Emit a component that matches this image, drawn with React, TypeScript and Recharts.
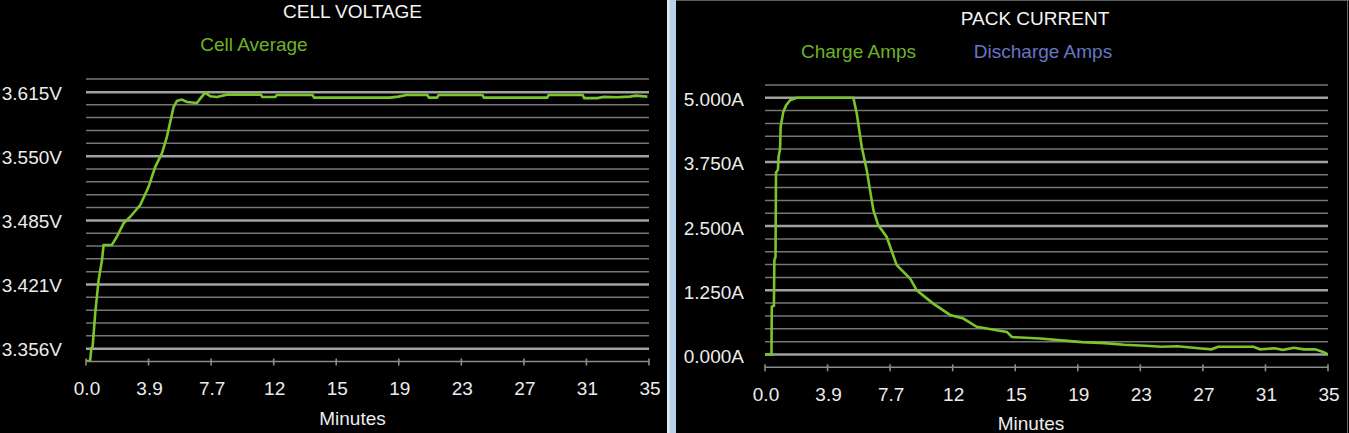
import React from 'react';
import { LineChart, Line, XAxis, YAxis, CartesianGrid } from 'recharts';

// ---- axis ticks ----
const xTickValues = [0, 3.8667, 7.7333, 11.6, 15.4667, 19.3333, 23.2, 27.0667, 30.9333, 34.8];
const xTickLabels = ['0.0', '3.9', '7.7', '12', '15', '19', '23', '27', '31', '35'];

const voltTicks = [3.356, 3.4208, 3.4855, 3.5503, 3.615];
const voltTickLabels = ['3.356V', '3.421V', '3.485V', '3.550V', '3.615V'];

const ampTicks = [0, 1.25, 2.5, 3.75, 5];
const ampTickLabels = ['0.000A', '1.250A', '2.500A', '3.750A', '5.000A'];

// ---- CELL VOLTAGE series ----
const voltMinutes = [
  0, 0.25, 0.33, 0.41, 0.57, 0.78, 0.99, 1.09, 1.6, 1.91, 2.32, 2.74, 3.35, 3.87, 4.28, 4.69, 5.0,
  5.41, 5.62, 5.93, 6.24, 6.86, 7.06, 7.37, 7.68, 8.09, 8.71, 10.8, 10.9, 11.7, 11.8, 14.0, 14.1,
  18.8, 19.3, 19.8, 21.1, 21.2, 21.7, 21.8, 24.5, 24.6, 28.5, 28.6, 30.7, 30.8, 31.6, 32.0, 32.8,
  33.6, 34.0, 34.7,
];
const cellAverage = [
  3.3435, 3.3435, 3.356, 3.3582, 3.3918, 3.4254, 3.4455, 3.4607, 3.4607, 3.469, 3.4825, 3.4892,
  3.501, 3.5194, 3.5396, 3.5531, 3.5698, 3.5997, 3.6061, 3.6075, 3.6051, 3.6041, 3.6084, 3.6145,
  3.6108, 3.6101, 3.6125, 3.6125, 3.6101, 3.6101, 3.6121, 3.6121, 3.6095, 3.6095, 3.6105, 3.6121,
  3.6121, 3.6095, 3.6095, 3.6121, 3.6121, 3.6095, 3.6095, 3.6121, 3.6121, 3.609, 3.609, 3.6102,
  3.6098, 3.6105, 3.6115, 3.6105,
];

// ---- PACK CURRENT series ----
const ampMinutes = [
  0, 0.4, 0.42, 0.55, 0.58, 0.65, 0.68, 0.8, 0.84, 0.93, 0.97, 1.13, 1.3, 1.55, 1.96, 5.46, 5.67,
  5.98, 6.29, 6.49, 6.7, 7.0, 7.52, 8.14, 8.97, 9.38, 10.4, 11.44, 12.26, 13.09, 14.33, 14.95,
  15.26, 17.0, 18.5, 19.6, 21.0, 22.2, 23.5, 24.5, 25.5, 26.8, 27.6, 28.0, 30.2, 30.6, 31.5, 32.0,
  32.7, 33.3, 34.0, 34.5, 34.8,
];
const chargeAmps = [
  0, 0, 0.93, 0.95, 1.84, 1.9, 3.54, 3.6, 3.85, 4.0, 4.44, 4.72, 4.85, 4.95, 5.0, 5.0, 4.7, 4.04,
  3.59, 3.2, 2.81, 2.52, 2.29, 1.74, 1.48, 1.25, 0.99, 0.77, 0.7, 0.54, 0.47, 0.44, 0.34, 0.31,
  0.27, 0.24, 0.22, 0.19, 0.17, 0.15, 0.16, 0.12, 0.1, 0.15, 0.15, 0.1, 0.12, 0.09, 0.13, 0.1,
  0.1, 0.05, 0.0,
];

const voltData = voltMinutes.map((t, i) => ({ t, v: cellAverage[i] }));
const ampData = ampMinutes.map((t, i) => ({ t, v: chargeAmps[i] }));

const FONT = '"Liberation Sans", Arial, sans-serif';
const GREEN = '#7bc42c';
const TEXT = '#ececec';
const FS = 19;

function minorValues(ticks: number[]) {
  const step = (ticks[1] - ticks[0]) / 5;
  const out: number[] = [];
  const n = (ticks.length - 1) * 5 + 1;
  for (let k = 0; k <= n; k++) {
    if (k % 5 !== 0) out.push(ticks[0] + k * step);
  }
  return out;
}

function domainOf(ticks: number[]): [number, number] {
  const step = (ticks[1] - ticks[0]) / 5;
  return [ticks[0] - step, ticks[ticks.length - 1] + step];
}

function makeXTick(dy: number) {
  return (props: any) => {
    const { x, y, index } = props;
    return (
      <g>
        <line x1={x} x2={x} y1={y - 3} y2={y + 4} stroke="#8c8c8c" strokeWidth={1.6} />
        <text x={x + 1} y={y + dy} textAnchor="middle" fill={TEXT} fontSize={FS} fontFamily={FONT}>
          {xTickLabels[index]}
        </text>
      </g>
    );
  };
}

function makeYTick(labels: string[], dx: number, dy: number) {
  return (props: any) => {
    const { x, y, index } = props;
    return (
      <text x={x - dx} y={y + dy} textAnchor="end" fill={TEXT} fontSize={FS} fontFamily={FONT}>
        {labels[index]}
      </text>
    );
  };
}

type PanelProps = {
  data: { t: number; v: number }[];
  width: number;
  margin: { top: number; right: number; bottom: number; left: number };
  yTicks: number[];
  yLabels: string[];
  yDx: number;
  yDy: number;
  xDy: number;
};

function Panel({ data, width, margin, yTicks, yLabels, yDx, yDy, xDy }: PanelProps) {
  return (
    <LineChart width={width} height={433} data={data} margin={margin}>
      <CartesianGrid
        vertical={false}
        horizontalValues={minorValues(yTicks)}
        stroke="#767676"
        strokeWidth={1.5}
      />
      <CartesianGrid
        vertical={false}
        horizontalValues={yTicks}
        stroke="#a2a2a2"
        strokeWidth={2.5}
      />
      <XAxis
        dataKey="t"
        type="number"
        domain={[0, 34.8]}
        ticks={xTickValues}
        interval={0}
        height={40}
        tickSize={0}
        tickMargin={0}
        tickLine={false}
        axisLine={{ stroke: '#8c8c8c', strokeWidth: 1.6 }}
        tick={makeXTick(xDy)}
        allowDataOverflow
      />
      <YAxis
        type="number"
        domain={domainOf(yTicks)}
        ticks={yTicks}
        interval={0}
        width={60}
        tickSize={0}
        tickMargin={0}
        tickLine={false}
        axisLine={false}
        tick={makeYTick(yLabels, yDx, yDy)}
        allowDataOverflow
      />
      <Line
        type="linear"
        dataKey="v"
        stroke={GREEN}
        strokeWidth={2.6}
        dot={false}
        activeDot={false}
        isAnimationActive={false}
      />
    </LineChart>
  );
}

export default function App() {
  return (
    <div
      style={{
        position: 'absolute',
        left: 0,
        top: 0,
        width: 1349,
        height: 433,
        background: '#000',
        overflow: 'hidden',
      }}
    >
      <div style={{ position: 'absolute', left: 0, top: 0 }}>
        <Panel
          data={voltData}
          width={666}
          margin={{ top: 79.3, right: 17, bottom: 31.5, left: 26 }}
          yTicks={voltTicks}
          yLabels={voltTickLabels}
          yDx={24}
          yDy={7.5}
          xDy={33.5}
        />
      </div>
      {/* splitter */}
      <div
        style={{
          position: 'absolute',
          left: 667,
          top: 0,
          width: 9,
          height: 433,
          background: 'linear-gradient(to right, #dfe9f2 0%, #dfe9f2 25%, #b6d1ea 30%, #b6d1ea 100%)',
        }}
      />
      <div style={{ position: 'absolute', left: 676, top: 0 }}>
        <Panel
          data={ampData}
          width={673}
          margin={{ top: 84.9, right: 21, bottom: 25.7, left: 29 }}
          yTicks={ampTicks}
          yLabels={ampTickLabels}
          yDx={21}
          yDy={8.5}
          xDy={33.5}
        />
      </div>
      <div style={{ position: 'absolute', left: 676, top: 0, width: 673, height: 1, background: '#5c5c5c' }} />
      <div style={{ position: 'absolute', left: 1347, top: 0, width: 1, height: 433, background: '#6a6a6a' }} />
      <svg
        width={1349}
        height={433}
        style={{ position: 'absolute', left: 0, top: 0, pointerEvents: 'none' }}
      >
        <g fontFamily={FONT} fontSize={FS} textAnchor="middle">
          <text x={352.5} y={18.3} fill="#f4f4f4">CELL VOLTAGE</text>
          <text x={254} y={51} fill="#6db22a">Cell Average</text>
          <text x={352.5} y={425} fill={TEXT}>Minutes</text>
          <text x={1035} y={24.5} fill="#f4f4f4">PACK CURRENT</text>
          <text x={858.5} y={58} fill="#6db22a">Charge Amps</text>
          <text x={1043} y={58} fill="#6676c6">Discharge Amps</text>
          <text x={1031} y={430} fill={TEXT}>Minutes</text>
        </g>
      </svg>
    </div>
  );
}
